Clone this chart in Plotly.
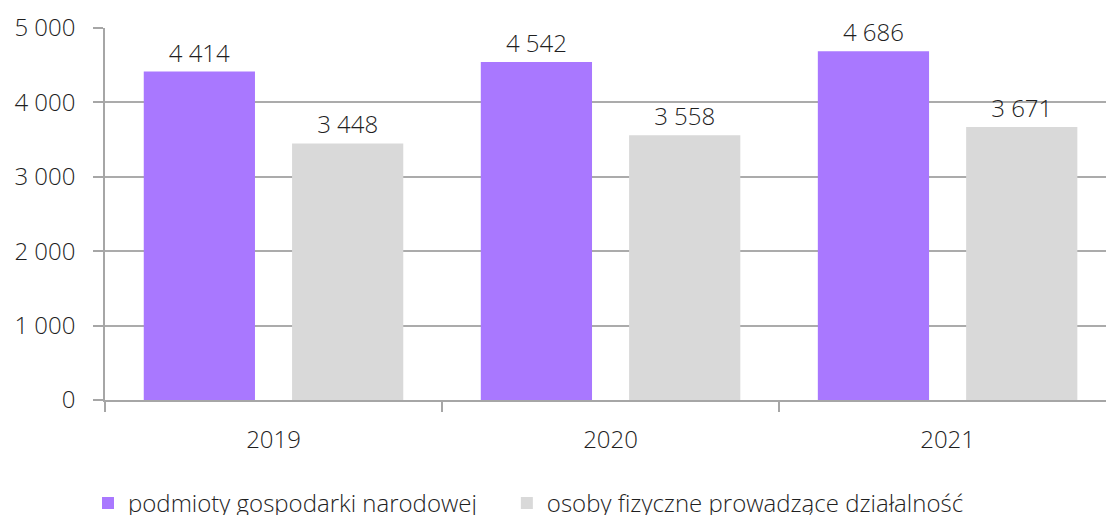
import plotly.graph_objects as go

years = ["2019", "2020", "2021"]
podmioty = [4414, 4542, 4686]
osoby = [3448, 3558, 3671]
series_names = ["podmioty gospodarki narodowej", "osoby fizyczne prowadzące działalność"]
y_ticks = [0, 1000, 2000, 3000, 4000, 5000]

FONT = "Open Sans"
TXT = "#1F1F1F"
PAD = "\u00a0" * 4

fig = go.Figure()
fig.add_trace(go.Bar(
    x=years, y=podmioty, name=series_names[0] + PAD,
    marker=dict(color="#A978FF", line=dict(width=0)),
    texttemplate="%{y:,}", textposition="outside",
    textfont=dict(size=24, color=TXT, family=FONT, weight=300),
    cliponaxis=False,
))
fig.add_trace(go.Bar(
    x=years, y=osoby, name=series_names[1],
    marker=dict(color="#D9D9D9", line=dict(width=0)),
    texttemplate="%{y:,}", textposition="outside",
    textfont=dict(size=24, color=TXT, family=FONT, weight=300),
    cliponaxis=False,
))

fig.update_layout(
    width=1106, height=515,
    margin=dict(l=105, r=0, t=28, b=115, autoexpand=False),
    paper_bgcolor="white", plot_bgcolor="white",
    barmode="group", bargap=0.12, bargroupgap=0.25,
    separators=", ",
    font=dict(family=FONT, size=24, color=TXT, weight=300),
    showlegend=True,
    legend=dict(orientation="h", x=-0.017, xanchor="left", y=-0.278, yanchor="middle",
                font=dict(size=24, color=TXT, family=FONT, weight=300),
                itemwidth=30,
                traceorder="normal", bgcolor="rgba(0,0,0,0)"),
)
fig.update_xaxes(
    range=[-0.5, 2.47], tickson="boundaries", ticks="outside", ticklen=10,
    tickcolor="#A6A6A6", tickwidth=1.5,
    showline=True, linecolor="#A6A6A6", linewidth=1.5,
    showgrid=False, ticklabelstandoff=17,
    tickfont=dict(size=24, color=TXT, family=FONT, weight=300),
)
fig.update_yaxes(
    range=[0, 5000], tickvals=y_ticks, tickformat=",d",
    ticks="outside", ticklen=10, tickcolor="#A6A6A6", tickwidth=1.5,
    showline=True, linecolor="#A6A6A6", linewidth=1.5,
    showgrid=True, gridcolor="#ABABAB", gridwidth=1.5,
    zeroline=False, ticklabelstandoff=13,
    tickfont=dict(size=24, color=TXT, family=FONT, weight=300),
)

fig.write_html("out.html", config={"displayModeBar": False},
               post_script="document.body.style.margin='0';")
